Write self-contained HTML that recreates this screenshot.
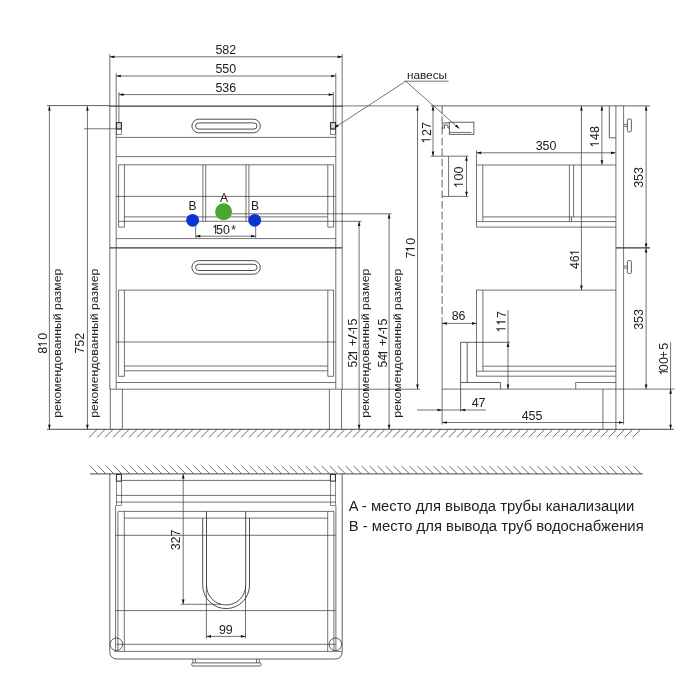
<!DOCTYPE html>
<html><head><meta charset="utf-8"><title>drawing</title>
<style>
html,body{margin:0;padding:0;background:#fff;}
svg{display:block;will-change:transform;font-family:"Liberation Sans",sans-serif;}
</style></head><body>
<svg width="700" height="700" viewBox="0 0 700 700">
<rect width="700" height="700" fill="#fff"/>
<line x1="109.8" y1="54" x2="109.8" y2="389.2" stroke="#3a3a3a" stroke-width="0.72" />
<line x1="342.2" y1="54" x2="342.2" y2="389.2" stroke="#3a3a3a" stroke-width="0.72" />
<line x1="110.3" y1="389.2" x2="110.3" y2="429.3" stroke="#3a3a3a" stroke-width="0.72" />
<line x1="341.5" y1="389.2" x2="341.5" y2="429.3" stroke="#3a3a3a" stroke-width="0.72" />
<line x1="116.2" y1="73" x2="116.2" y2="389" stroke="#3a3a3a" stroke-width="0.72" />
<line x1="335.8" y1="73" x2="335.8" y2="389" stroke="#3a3a3a" stroke-width="0.72" />
<line x1="118.9" y1="92" x2="118.9" y2="122.6" stroke="#3a3a3a" stroke-width="0.72" />
<line x1="333.3" y1="92" x2="333.3" y2="122.6" stroke="#3a3a3a" stroke-width="0.72" />
<line x1="109.8" y1="56.8" x2="342.2" y2="56.8" stroke="#3a3a3a" stroke-width="0.72" />
<polygon points="109.80,56.80 114.40,55.45 114.40,58.15" fill="#111"/>
<polygon points="342.20,56.80 337.60,55.45 337.60,58.15" fill="#111"/>
<text x="215.45" y="53.9" font-size="12" textLength="6.94" lengthAdjust="spacingAndGlyphs" fill="#222">5</text>
<text x="222.35" y="53.9" font-size="12" textLength="6.94" lengthAdjust="spacingAndGlyphs" fill="#222">8</text>
<text x="229.25" y="53.9" font-size="12" textLength="6.94" lengthAdjust="spacingAndGlyphs" fill="#222">2</text>
<line x1="116.2" y1="76" x2="335.8" y2="76" stroke="#3a3a3a" stroke-width="0.72" />
<polygon points="116.20,76.00 120.80,74.65 120.80,77.35" fill="#111"/>
<polygon points="335.80,76.00 331.20,74.65 331.20,77.35" fill="#111"/>
<text x="215.45" y="72.9" font-size="12" textLength="6.94" lengthAdjust="spacingAndGlyphs" fill="#222">5</text>
<text x="222.35" y="72.9" font-size="12" textLength="6.94" lengthAdjust="spacingAndGlyphs" fill="#222">5</text>
<text x="229.25" y="72.9" font-size="12" textLength="6.94" lengthAdjust="spacingAndGlyphs" fill="#222">0</text>
<line x1="118.9" y1="94.6" x2="333.3" y2="94.6" stroke="#3a3a3a" stroke-width="0.72" />
<polygon points="118.90,94.60 123.50,93.25 123.50,95.95" fill="#111"/>
<polygon points="333.30,94.60 328.70,93.25 328.70,95.95" fill="#111"/>
<text x="215.45" y="91.6" font-size="12" textLength="6.94" lengthAdjust="spacingAndGlyphs" fill="#222">5</text>
<text x="222.35" y="91.6" font-size="12" textLength="6.94" lengthAdjust="spacingAndGlyphs" fill="#222">3</text>
<text x="229.25" y="91.6" font-size="12" textLength="6.94" lengthAdjust="spacingAndGlyphs" fill="#222">6</text>
<line x1="47" y1="105.6" x2="110" y2="105.6" stroke="#3a3a3a" stroke-width="0.8" />
<line x1="109.8" y1="106.1" x2="342.2" y2="106.1" stroke="#3a3a3a" stroke-width="1.25" />
<rect x="116.4" y="122.6" width="5" height="6.4" fill="#d4d4d4"/>
<rect x="116.4" y="122.6" width="5.0" height="6.400000000000006" rx="0" fill="none" stroke="#222" stroke-width="1.0"/>
<rect x="116.4" y="129" width="5.0" height="5.300000000000011" rx="0" fill="none" stroke="#3a3a3a" stroke-width="0.6"/>
<rect x="330.6" y="122.6" width="5" height="6.4" fill="#d4d4d4"/>
<rect x="330.6" y="122.6" width="5.0" height="6.400000000000006" rx="0" fill="none" stroke="#222" stroke-width="1.0"/>
<rect x="330.6" y="129" width="5.0" height="5.300000000000011" rx="0" fill="none" stroke="#3a3a3a" stroke-width="0.6"/>
<line x1="84" y1="128.8" x2="116.4" y2="128.8" stroke="#3a3a3a" stroke-width="0.7" />
<line x1="116.2" y1="137.4" x2="335.8" y2="137.4" stroke="#3a3a3a" stroke-width="0.72" />
<line x1="116.2" y1="156.6" x2="335.8" y2="156.6" stroke="#3a3a3a" stroke-width="0.72" />
<line x1="118.6" y1="164.8" x2="333.6" y2="164.8" stroke="#3a3a3a" stroke-width="0.72" />
<line x1="116.2" y1="196.4" x2="335.8" y2="196.4" stroke="#3a3a3a" stroke-width="0.72" />
<line x1="124.4" y1="216.9" x2="327.8" y2="216.9" stroke="#3a3a3a" stroke-width="0.72" />
<line x1="118.6" y1="221.3" x2="361.5" y2="221.3" stroke="#3a3a3a" stroke-width="0.72" />
<line x1="225" y1="213.8" x2="391.5" y2="213.8" stroke="#3a3a3a" stroke-width="0.72" />
<line x1="118.6" y1="227.1" x2="124.4" y2="227.1" stroke="#3a3a3a" stroke-width="0.72" />
<line x1="327.8" y1="227.1" x2="333.6" y2="227.1" stroke="#3a3a3a" stroke-width="0.72" />
<line x1="116.2" y1="238.6" x2="335.8" y2="238.6" stroke="#3a3a3a" stroke-width="0.72" />
<line x1="109.8" y1="247.9" x2="342.2" y2="247.9" stroke="#3a3a3a" stroke-width="1.25" />
<line x1="118.6" y1="164.8" x2="118.6" y2="227.1" stroke="#3a3a3a" stroke-width="0.72" />
<line x1="124.4" y1="164.8" x2="124.4" y2="227.1" stroke="#3a3a3a" stroke-width="0.72" />
<line x1="327.8" y1="164.8" x2="327.8" y2="227.1" stroke="#3a3a3a" stroke-width="0.72" />
<line x1="333.6" y1="164.8" x2="333.6" y2="227.1" stroke="#3a3a3a" stroke-width="0.72" />
<line x1="202.9" y1="164.8" x2="202.9" y2="221.3" stroke="#3a3a3a" stroke-width="0.72" />
<line x1="205.7" y1="164.8" x2="205.7" y2="221.3" stroke="#3a3a3a" stroke-width="0.72" />
<line x1="246.0" y1="164.8" x2="246.0" y2="221.3" stroke="#3a3a3a" stroke-width="0.72" />
<line x1="248.9" y1="164.8" x2="248.9" y2="221.3" stroke="#3a3a3a" stroke-width="0.72" />
<rect x="191.9" y="119.2" width="68.4" height="13.600000000000009" rx="6.8" fill="none" stroke="#3a3a3a" stroke-width="0.9"/>
<rect x="195.6" y="122.9" width="61.400000000000006" height="6.199999999999989" rx="3.1" fill="none" stroke="#3a3a3a" stroke-width="0.9"/>
<rect x="191.9" y="260.59999999999997" width="68.4" height="13.600000000000023" rx="6.8" fill="none" stroke="#3a3a3a" stroke-width="0.9"/>
<rect x="195.6" y="264.29999999999995" width="61.400000000000006" height="6.2000000000000455" rx="3.1" fill="none" stroke="#3a3a3a" stroke-width="0.9"/>
<line x1="118.6" y1="290.1" x2="333.6" y2="290.1" stroke="#3a3a3a" stroke-width="0.72" />
<line x1="118.6" y1="290" x2="118.6" y2="376.3" stroke="#3a3a3a" stroke-width="0.72" />
<line x1="124.4" y1="290" x2="124.4" y2="376.3" stroke="#3a3a3a" stroke-width="0.72" />
<line x1="327.8" y1="290" x2="327.8" y2="376.3" stroke="#3a3a3a" stroke-width="0.72" />
<line x1="333.6" y1="290" x2="333.6" y2="376.3" stroke="#3a3a3a" stroke-width="0.72" />
<line x1="118.6" y1="376.3" x2="124.4" y2="376.3" stroke="#3a3a3a" stroke-width="0.72" />
<line x1="327.8" y1="376.3" x2="333.6" y2="376.3" stroke="#3a3a3a" stroke-width="0.72" />
<line x1="116.2" y1="342" x2="335.8" y2="342" stroke="#3a3a3a" stroke-width="0.72" />
<line x1="124.4" y1="366.0" x2="327.8" y2="366.0" stroke="#3a3a3a" stroke-width="0.72" />
<line x1="124.4" y1="370.8" x2="327.8" y2="370.8" stroke="#3a3a3a" stroke-width="0.72" />
<line x1="116.2" y1="382.5" x2="335.8" y2="382.5" stroke="#3a3a3a" stroke-width="0.72" />
<line x1="109.8" y1="389.2" x2="420" y2="389.2" stroke="#3a3a3a" stroke-width="0.72" />
<line x1="122.4" y1="389.2" x2="122.4" y2="429.3" stroke="#3a3a3a" stroke-width="0.72" />
<line x1="329.4" y1="389.2" x2="329.4" y2="429.3" stroke="#3a3a3a" stroke-width="0.72" />
<line x1="47" y1="429.3" x2="673.6" y2="429.3" stroke="#333" stroke-width="0.9" />
<line x1="97.2" y1="429.3" x2="89.2" y2="437.40000000000003" stroke="#3a3a3a" stroke-width="0.75" />
<line x1="105.193" y1="429.3" x2="97.193" y2="437.40000000000003" stroke="#3a3a3a" stroke-width="0.75" />
<line x1="113.186" y1="429.3" x2="105.186" y2="437.40000000000003" stroke="#3a3a3a" stroke-width="0.75" />
<line x1="121.179" y1="429.3" x2="113.179" y2="437.40000000000003" stroke="#3a3a3a" stroke-width="0.75" />
<line x1="129.172" y1="429.3" x2="121.172" y2="437.40000000000003" stroke="#3a3a3a" stroke-width="0.75" />
<line x1="137.16500000000002" y1="429.3" x2="129.16500000000002" y2="437.40000000000003" stroke="#3a3a3a" stroke-width="0.75" />
<line x1="145.15800000000002" y1="429.3" x2="137.15800000000002" y2="437.40000000000003" stroke="#3a3a3a" stroke-width="0.75" />
<line x1="153.151" y1="429.3" x2="145.151" y2="437.40000000000003" stroke="#3a3a3a" stroke-width="0.75" />
<line x1="161.144" y1="429.3" x2="153.144" y2="437.40000000000003" stroke="#3a3a3a" stroke-width="0.75" />
<line x1="169.137" y1="429.3" x2="161.137" y2="437.40000000000003" stroke="#3a3a3a" stroke-width="0.75" />
<line x1="177.13" y1="429.3" x2="169.13" y2="437.40000000000003" stroke="#3a3a3a" stroke-width="0.75" />
<line x1="185.123" y1="429.3" x2="177.123" y2="437.40000000000003" stroke="#3a3a3a" stroke-width="0.75" />
<line x1="193.11599999999999" y1="429.3" x2="185.11599999999999" y2="437.40000000000003" stroke="#3a3a3a" stroke-width="0.75" />
<line x1="201.109" y1="429.3" x2="193.109" y2="437.40000000000003" stroke="#3a3a3a" stroke-width="0.75" />
<line x1="209.102" y1="429.3" x2="201.102" y2="437.40000000000003" stroke="#3a3a3a" stroke-width="0.75" />
<line x1="217.09500000000003" y1="429.3" x2="209.09500000000003" y2="437.40000000000003" stroke="#3a3a3a" stroke-width="0.75" />
<line x1="225.08800000000002" y1="429.3" x2="217.08800000000002" y2="437.40000000000003" stroke="#3a3a3a" stroke-width="0.75" />
<line x1="233.08100000000002" y1="429.3" x2="225.08100000000002" y2="437.40000000000003" stroke="#3a3a3a" stroke-width="0.75" />
<line x1="241.074" y1="429.3" x2="233.074" y2="437.40000000000003" stroke="#3a3a3a" stroke-width="0.75" />
<line x1="249.067" y1="429.3" x2="241.067" y2="437.40000000000003" stroke="#3a3a3a" stroke-width="0.75" />
<line x1="257.06" y1="429.3" x2="249.06" y2="437.40000000000003" stroke="#3a3a3a" stroke-width="0.75" />
<line x1="265.053" y1="429.3" x2="257.053" y2="437.40000000000003" stroke="#3a3a3a" stroke-width="0.75" />
<line x1="273.046" y1="429.3" x2="265.046" y2="437.40000000000003" stroke="#3a3a3a" stroke-width="0.75" />
<line x1="281.039" y1="429.3" x2="273.039" y2="437.40000000000003" stroke="#3a3a3a" stroke-width="0.75" />
<line x1="289.032" y1="429.3" x2="281.032" y2="437.40000000000003" stroke="#3a3a3a" stroke-width="0.75" />
<line x1="297.02500000000003" y1="429.3" x2="289.02500000000003" y2="437.40000000000003" stroke="#3a3a3a" stroke-width="0.75" />
<line x1="305.01800000000003" y1="429.3" x2="297.01800000000003" y2="437.40000000000003" stroke="#3a3a3a" stroke-width="0.75" />
<line x1="313.011" y1="429.3" x2="305.011" y2="437.40000000000003" stroke="#3a3a3a" stroke-width="0.75" />
<line x1="321.004" y1="429.3" x2="313.004" y2="437.40000000000003" stroke="#3a3a3a" stroke-width="0.75" />
<line x1="328.997" y1="429.3" x2="320.997" y2="437.40000000000003" stroke="#3a3a3a" stroke-width="0.75" />
<line x1="336.99" y1="429.3" x2="328.99" y2="437.40000000000003" stroke="#3a3a3a" stroke-width="0.75" />
<line x1="344.983" y1="429.3" x2="336.983" y2="437.40000000000003" stroke="#3a3a3a" stroke-width="0.75" />
<line x1="352.976" y1="429.3" x2="344.976" y2="437.40000000000003" stroke="#3a3a3a" stroke-width="0.75" />
<line x1="360.969" y1="429.3" x2="352.969" y2="437.40000000000003" stroke="#3a3a3a" stroke-width="0.75" />
<line x1="368.962" y1="429.3" x2="360.962" y2="437.40000000000003" stroke="#3a3a3a" stroke-width="0.75" />
<line x1="376.955" y1="429.3" x2="368.955" y2="437.40000000000003" stroke="#3a3a3a" stroke-width="0.75" />
<line x1="384.948" y1="429.3" x2="376.948" y2="437.40000000000003" stroke="#3a3a3a" stroke-width="0.75" />
<line x1="392.941" y1="429.3" x2="384.941" y2="437.40000000000003" stroke="#3a3a3a" stroke-width="0.75" />
<line x1="400.934" y1="429.3" x2="392.934" y2="437.40000000000003" stroke="#3a3a3a" stroke-width="0.75" />
<line x1="408.927" y1="429.3" x2="400.927" y2="437.40000000000003" stroke="#3a3a3a" stroke-width="0.75" />
<line x1="416.92" y1="429.3" x2="408.92" y2="437.40000000000003" stroke="#3a3a3a" stroke-width="0.75" />
<line x1="424.913" y1="429.3" x2="416.913" y2="437.40000000000003" stroke="#3a3a3a" stroke-width="0.75" />
<line x1="432.906" y1="429.3" x2="424.906" y2="437.40000000000003" stroke="#3a3a3a" stroke-width="0.75" />
<line x1="440.899" y1="429.3" x2="432.899" y2="437.40000000000003" stroke="#3a3a3a" stroke-width="0.75" />
<line x1="448.892" y1="429.3" x2="440.892" y2="437.40000000000003" stroke="#3a3a3a" stroke-width="0.75" />
<line x1="456.885" y1="429.3" x2="448.885" y2="437.40000000000003" stroke="#3a3a3a" stroke-width="0.75" />
<line x1="464.878" y1="429.3" x2="456.878" y2="437.40000000000003" stroke="#3a3a3a" stroke-width="0.75" />
<line x1="472.871" y1="429.3" x2="464.871" y2="437.40000000000003" stroke="#3a3a3a" stroke-width="0.75" />
<line x1="480.864" y1="429.3" x2="472.864" y2="437.40000000000003" stroke="#3a3a3a" stroke-width="0.75" />
<line x1="488.857" y1="429.3" x2="480.857" y2="437.40000000000003" stroke="#3a3a3a" stroke-width="0.75" />
<line x1="496.85" y1="429.3" x2="488.85" y2="437.40000000000003" stroke="#3a3a3a" stroke-width="0.75" />
<line x1="504.843" y1="429.3" x2="496.843" y2="437.40000000000003" stroke="#3a3a3a" stroke-width="0.75" />
<line x1="512.836" y1="429.3" x2="504.836" y2="437.40000000000003" stroke="#3a3a3a" stroke-width="0.75" />
<line x1="520.8290000000001" y1="429.3" x2="512.8290000000001" y2="437.40000000000003" stroke="#3a3a3a" stroke-width="0.75" />
<line x1="528.822" y1="429.3" x2="520.822" y2="437.40000000000003" stroke="#3a3a3a" stroke-width="0.75" />
<line x1="536.815" y1="429.3" x2="528.815" y2="437.40000000000003" stroke="#3a3a3a" stroke-width="0.75" />
<line x1="544.808" y1="429.3" x2="536.808" y2="437.40000000000003" stroke="#3a3a3a" stroke-width="0.75" />
<line x1="552.801" y1="429.3" x2="544.801" y2="437.40000000000003" stroke="#3a3a3a" stroke-width="0.75" />
<line x1="560.794" y1="429.3" x2="552.794" y2="437.40000000000003" stroke="#3a3a3a" stroke-width="0.75" />
<line x1="568.787" y1="429.3" x2="560.787" y2="437.40000000000003" stroke="#3a3a3a" stroke-width="0.75" />
<line x1="576.7800000000001" y1="429.3" x2="568.7800000000001" y2="437.40000000000003" stroke="#3a3a3a" stroke-width="0.75" />
<line x1="584.773" y1="429.3" x2="576.773" y2="437.40000000000003" stroke="#3a3a3a" stroke-width="0.75" />
<line x1="592.7660000000001" y1="429.3" x2="584.7660000000001" y2="437.40000000000003" stroke="#3a3a3a" stroke-width="0.75" />
<line x1="600.759" y1="429.3" x2="592.759" y2="437.40000000000003" stroke="#3a3a3a" stroke-width="0.75" />
<line x1="608.7520000000001" y1="429.3" x2="600.7520000000001" y2="437.40000000000003" stroke="#3a3a3a" stroke-width="0.75" />
<line x1="616.7450000000001" y1="429.3" x2="608.7450000000001" y2="437.40000000000003" stroke="#3a3a3a" stroke-width="0.75" />
<line x1="624.738" y1="429.3" x2="616.738" y2="437.40000000000003" stroke="#3a3a3a" stroke-width="0.75" />
<line x1="632.7310000000001" y1="429.3" x2="624.7310000000001" y2="437.40000000000003" stroke="#3a3a3a" stroke-width="0.75" />
<line x1="640.724" y1="429.3" x2="632.724" y2="437.40000000000003" stroke="#3a3a3a" stroke-width="0.75" />
<line x1="49.4" y1="105.9" x2="49.4" y2="429.3" stroke="#3a3a3a" stroke-width="0.72" />
<polygon points="49.40,105.90 48.05,110.50 50.75,110.50" fill="#111"/>
<polygon points="49.40,429.30 48.05,424.70 50.75,424.70" fill="#111"/>
<line x1="87.4" y1="105.9" x2="87.4" y2="429.3" stroke="#3a3a3a" stroke-width="0.72" />
<polygon points="87.40,105.90 86.05,110.50 88.75,110.50" fill="#111"/>
<polygon points="87.40,429.30 86.05,424.70 88.75,424.70" fill="#111"/>
<text transform="translate(47,353.65) rotate(-90)" font-size="12" textLength="6.94" lengthAdjust="spacingAndGlyphs" fill="#222">8</text>
<path transform="translate(47,346.45) rotate(-90)" d="M0.5,-6.4 L2.75,-8.35 L2.75,0" stroke="#222" stroke-width="1.05" fill="none"/>
<text transform="translate(47,339.85) rotate(-90)" font-size="12" textLength="6.94" lengthAdjust="spacingAndGlyphs" fill="#222">0</text>
<text transform="translate(84.4,353.65) rotate(-90)" font-size="12" textLength="6.94" lengthAdjust="spacingAndGlyphs" fill="#222">7</text>
<text transform="translate(84.4,346.75) rotate(-90)" font-size="12" textLength="6.94" lengthAdjust="spacingAndGlyphs" fill="#222">5</text>
<text transform="translate(84.4,339.85) rotate(-90)" font-size="12" textLength="6.94" lengthAdjust="spacingAndGlyphs" fill="#222">2</text>
<text transform="translate(61.4,343.2) rotate(-90)" font-size="11.6" text-anchor="middle" textLength="149" lengthAdjust="spacingAndGlyphs" fill="#222">рекомендованный размер</text>
<text transform="translate(98.4,343.2) rotate(-90)" font-size="11.6" text-anchor="middle" textLength="149" lengthAdjust="spacingAndGlyphs" fill="#222">рекомендованный размер</text>
<line x1="359.1" y1="221.3" x2="359.1" y2="429.3" stroke="#3a3a3a" stroke-width="0.72" />
<polygon points="359.10,221.30 357.75,225.90 360.45,225.90" fill="#111"/>
<polygon points="359.10,429.30 357.75,424.70 360.45,424.70" fill="#111"/>
<line x1="389.1" y1="213.8" x2="389.1" y2="429.3" stroke="#3a3a3a" stroke-width="0.72" />
<polygon points="389.10,213.80 387.75,218.40 390.45,218.40" fill="#111"/>
<polygon points="389.10,429.30 387.75,424.70 390.45,424.70" fill="#111"/>
<text transform="translate(357.3,367.5) rotate(-90)" font-size="12" textLength="13.4" lengthAdjust="spacingAndGlyphs" fill="#222">52</text>
<path transform="translate(357.3,355.4) rotate(-90)" d="M0.5,-6.4 L2.75,-8.35 L2.75,0" stroke="#222" stroke-width="1.05" fill="none"/>
<text transform="translate(357.3,346.1) rotate(-90)" font-size="12" fill="#222">+</text>
<text transform="translate(357.3,339.3) rotate(-90)" font-size="12" textLength="5.0" lengthAdjust="spacingAndGlyphs" fill="#222">/</text>
<text transform="translate(357.3,334.3) rotate(-90)" font-size="12" fill="#222">-</text>
<path transform="translate(357.3,331.2) rotate(-90)" d="M0.5,-6.4 L2.75,-8.35 L2.75,0" stroke="#222" stroke-width="1.05" fill="none"/>
<text transform="translate(357.3,325.4) rotate(-90)" font-size="12" textLength="6.94" lengthAdjust="spacingAndGlyphs" fill="#222">5</text>
<text transform="translate(387.4,367.5) rotate(-90)" font-size="12" textLength="13.4" lengthAdjust="spacingAndGlyphs" fill="#222">54</text>
<path transform="translate(387.4,355.4) rotate(-90)" d="M0.5,-6.4 L2.75,-8.35 L2.75,0" stroke="#222" stroke-width="1.05" fill="none"/>
<text transform="translate(387.4,346.1) rotate(-90)" font-size="12" fill="#222">+</text>
<text transform="translate(387.4,339.3) rotate(-90)" font-size="12" textLength="5.0" lengthAdjust="spacingAndGlyphs" fill="#222">/</text>
<text transform="translate(387.4,334.3) rotate(-90)" font-size="12" fill="#222">-</text>
<path transform="translate(387.4,331.2) rotate(-90)" d="M0.5,-6.4 L2.75,-8.35 L2.75,0" stroke="#222" stroke-width="1.05" fill="none"/>
<text transform="translate(387.4,325.4) rotate(-90)" font-size="12" textLength="6.94" lengthAdjust="spacingAndGlyphs" fill="#222">5</text>
<text transform="translate(368.6,343.2) rotate(-90)" font-size="11.6" text-anchor="middle" textLength="149" lengthAdjust="spacingAndGlyphs" fill="#222">рекомендованный размер</text>
<text transform="translate(400.8,343.2) rotate(-90)" font-size="11.6" text-anchor="middle" textLength="149" lengthAdjust="spacingAndGlyphs" fill="#222">рекомендованный размер</text>
<line x1="195.7" y1="222" x2="195.7" y2="237.9" stroke="#3a3a3a" stroke-width="0.72" />
<line x1="255.7" y1="222" x2="255.7" y2="237.9" stroke="#3a3a3a" stroke-width="0.72" />
<line x1="195.7" y1="236.2" x2="255.7" y2="236.2" stroke="#3a3a3a" stroke-width="0.72" />
<polygon points="195.70,236.20 200.30,234.85 200.30,237.55" fill="#111"/>
<polygon points="255.70,236.20 251.10,234.85 251.10,237.55" fill="#111"/>
<path transform="translate(212.9,233.8)" d="M0.5,-6.4 L2.75,-8.35 L2.75,0" stroke="#222" stroke-width="1.05" fill="none"/>
<text x="215.9" y="233.8" font-size="12" textLength="6.94" lengthAdjust="spacingAndGlyphs" fill="#222">5</text>
<text x="223.1" y="233.8" font-size="12" textLength="6.94" lengthAdjust="spacingAndGlyphs" fill="#222">0</text>
<text x="231.2" y="233.8" font-size="12" fill="#222">*</text>
<circle cx="223.6" cy="211.8" r="8.5" fill="#4aa832"/>
<circle cx="192.6" cy="220.3" r="6.4" fill="#0a35d2"/>
<circle cx="254.7" cy="220.3" r="6.4" fill="#0a35d2"/>
<text x="224" y="201.9" font-size="12" text-anchor="middle" fill="#222">A</text>
<text x="192.4" y="210.4" font-size="12" text-anchor="middle" fill="#222">B</text>
<text x="255.1" y="210.4" font-size="12" text-anchor="middle" fill="#222">B</text>
<text x="427" y="78.7" font-size="11.6" text-anchor="middle" textLength="40.2" lengthAdjust="spacingAndGlyphs" fill="#222">навесы</text>
<line x1="404.5" y1="81.2" x2="448.5" y2="81.2" stroke="#3a3a3a" stroke-width="0.7" />
<line x1="405.7" y1="81.2" x2="335.4" y2="127.2" stroke="#3a3a3a" stroke-width="0.7" />
<line x1="405.7" y1="81.2" x2="459.3" y2="128.6" stroke="#3a3a3a" stroke-width="0.7" />
<polygon points="334.20,128.00 337.31,124.35 338.79,126.61" fill="#111"/>
<polygon points="459.30,128.60 454.96,126.56 456.75,124.54" fill="#111"/>
<line x1="342.2" y1="105.9" x2="419.3" y2="105.9" stroke="#3a3a3a" stroke-width="0.7" />
<line x1="430.7" y1="105.9" x2="650" y2="105.9" stroke="#3a3a3a" stroke-width="0.8" />
<line x1="417.5" y1="105.9" x2="417.5" y2="389.1" stroke="#3a3a3a" stroke-width="0.72" />
<polygon points="417.50,105.90 416.15,110.50 418.85,110.50" fill="#111"/>
<polygon points="417.50,389.10 416.15,384.50 418.85,384.50" fill="#111"/>
<text transform="translate(414.6,258.55) rotate(-90)" font-size="12" textLength="6.94" lengthAdjust="spacingAndGlyphs" fill="#222">7</text>
<path transform="translate(414.6,251.35) rotate(-90)" d="M0.5,-6.4 L2.75,-8.35 L2.75,0" stroke="#222" stroke-width="1.05" fill="none"/>
<text transform="translate(414.6,244.75) rotate(-90)" font-size="12" textLength="6.94" lengthAdjust="spacingAndGlyphs" fill="#222">0</text>
<line x1="433" y1="105.9" x2="433" y2="156.2" stroke="#3a3a3a" stroke-width="0.72" />
<polygon points="433.00,105.90 431.65,110.50 434.35,110.50" fill="#111"/>
<polygon points="433.00,156.20 431.65,151.60 434.35,151.60" fill="#111"/>
<path transform="translate(430.5,142.55) rotate(-90)" d="M0.5,-6.4 L2.75,-8.35 L2.75,0" stroke="#222" stroke-width="1.05" fill="none"/>
<text transform="translate(430.5,135.95) rotate(-90)" font-size="12" textLength="6.94" lengthAdjust="spacingAndGlyphs" fill="#222">2</text>
<text transform="translate(430.5,129.05) rotate(-90)" font-size="12" textLength="6.94" lengthAdjust="spacingAndGlyphs" fill="#222">7</text>
<line x1="430.7" y1="156.2" x2="468.4" y2="156.2" stroke="#3a3a3a" stroke-width="0.72" />
<line x1="442.1" y1="105.9" x2="442.1" y2="317" stroke="#3a3a3a" stroke-width="0.8" stroke-dasharray="7.7 2.87"/>
<line x1="442.1" y1="317" x2="442.1" y2="424.5" stroke="#3a3a3a" stroke-width="0.72" />
<line x1="448.6" y1="156.2" x2="448.6" y2="196.4" stroke="#3a3a3a" stroke-width="0.72" />
<line x1="442.1" y1="196.4" x2="468.4" y2="196.4" stroke="#3a3a3a" stroke-width="0.72" />
<line x1="466.5" y1="156.2" x2="466.5" y2="196.4" stroke="#3a3a3a" stroke-width="0.72" />
<polygon points="466.50,156.20 465.15,160.80 467.85,160.80" fill="#111"/>
<polygon points="466.50,196.40 465.15,191.80 467.85,191.80" fill="#111"/>
<path transform="translate(463,187.05) rotate(-90)" d="M0.5,-6.4 L2.75,-8.35 L2.75,0" stroke="#222" stroke-width="1.05" fill="none"/>
<text transform="translate(463,180.45) rotate(-90)" font-size="12" textLength="6.94" lengthAdjust="spacingAndGlyphs" fill="#222">0</text>
<text transform="translate(463,173.55) rotate(-90)" font-size="12" textLength="6.94" lengthAdjust="spacingAndGlyphs" fill="#222">0</text>
<rect x="449.3" y="122.2" width="24.599999999999966" height="12.100000000000009" rx="0" fill="none" stroke="#3a3a3a" stroke-width="0.8"/>
<line x1="449.3" y1="132.4" x2="471.5" y2="132.4" stroke="#3a3a3a" stroke-width="0.7" />
<path d="M442.7,129.2 L442.7,124.8 Q442.7,122.8 444.7,122.8 L449.3,122.8 M444.4,128.8 L444.4,125 L447.1,125 Q447.9,125 447.9,125.8 L447.9,127.9 L449.3,127.9" fill="none" stroke="#3a3a3a" stroke-width="0.85"/>
<line x1="476.5" y1="150.5" x2="476.5" y2="227.1" stroke="#3a3a3a" stroke-width="0.72" />
<line x1="482.8" y1="164.8" x2="482.8" y2="221.4" stroke="#3a3a3a" stroke-width="0.72" />
<line x1="476.6" y1="152.8" x2="615.6" y2="152.8" stroke="#3a3a3a" stroke-width="0.72" />
<polygon points="476.60,152.80 481.20,151.45 481.20,154.15" fill="#111"/>
<polygon points="615.60,152.80 611.00,151.45 611.00,154.15" fill="#111"/>
<text x="535.65" y="150.4" font-size="12" textLength="6.94" lengthAdjust="spacingAndGlyphs" fill="#222">3</text>
<text x="542.55" y="150.4" font-size="12" textLength="6.94" lengthAdjust="spacingAndGlyphs" fill="#222">5</text>
<text x="549.45" y="150.4" font-size="12" textLength="6.94" lengthAdjust="spacingAndGlyphs" fill="#222">0</text>
<line x1="476.6" y1="165" x2="615.9" y2="165" stroke="#3a3a3a" stroke-width="0.72" />
<line x1="482.9" y1="216.9" x2="615.9" y2="216.9" stroke="#3a3a3a" stroke-width="0.72" />
<line x1="476.6" y1="221.6" x2="615.9" y2="221.6" stroke="#3a3a3a" stroke-width="0.72" />
<line x1="476.6" y1="227.1" x2="615.9" y2="227.1" stroke="#3a3a3a" stroke-width="0.72" />
<line x1="569.4" y1="165" x2="569.4" y2="221.6" stroke="#3a3a3a" stroke-width="0.72" />
<line x1="573.6" y1="165" x2="573.6" y2="217" stroke="#3a3a3a" stroke-width="0.72" />
<line x1="571.5" y1="217" x2="571.5" y2="221.6" stroke="#3a3a3a" stroke-width="0.72" />
<line x1="615.9" y1="105.9" x2="615.9" y2="429.3" stroke="#3a3a3a" stroke-width="0.72" />
<line x1="623.6" y1="105.9" x2="623.6" y2="424.5" stroke="#3a3a3a" stroke-width="0.72" />
<path d="M609.3,105.9 L609.3,137.8 L615.9,137.8" fill="none" stroke="#3a3a3a" stroke-width="0.8"/>
<line x1="615.9" y1="247.9" x2="650" y2="247.9" stroke="#3a3a3a" stroke-width="1.25" />
<line x1="623.6" y1="124.4" x2="627.4" y2="124.4" stroke="#3a3a3a" stroke-width="0.7" />
<line x1="623.6" y1="126.4" x2="627.4" y2="126.4" stroke="#3a3a3a" stroke-width="0.7" />
<rect x="627.4" y="119.0" width="4.0" height="12.800000000000011" rx="1" fill="none" stroke="#3a3a3a" stroke-width="0.8"/>
<line x1="623.6" y1="266" x2="627.4" y2="266" stroke="#3a3a3a" stroke-width="0.7" />
<line x1="623.6" y1="268" x2="627.4" y2="268" stroke="#3a3a3a" stroke-width="0.7" />
<rect x="627.4" y="260.6" width="4.0" height="12.799999999999955" rx="1" fill="none" stroke="#3a3a3a" stroke-width="0.8"/>
<line x1="646.1" y1="105.9" x2="646.1" y2="248" stroke="#3a3a3a" stroke-width="0.72" />
<polygon points="646.10,105.90 644.75,110.50 647.45,110.50" fill="#111"/>
<polygon points="646.10,248.00 644.75,243.40 647.45,243.40" fill="#111"/>
<text transform="translate(642.9,187.85) rotate(-90)" font-size="12" textLength="6.94" lengthAdjust="spacingAndGlyphs" fill="#222">3</text>
<text transform="translate(642.9,180.95) rotate(-90)" font-size="12" textLength="6.94" lengthAdjust="spacingAndGlyphs" fill="#222">5</text>
<text transform="translate(642.9,174.05) rotate(-90)" font-size="12" textLength="6.94" lengthAdjust="spacingAndGlyphs" fill="#222">3</text>
<line x1="646.1" y1="248" x2="646.1" y2="389.1" stroke="#3a3a3a" stroke-width="0.72" />
<polygon points="646.10,248.00 644.75,252.60 647.45,252.60" fill="#111"/>
<polygon points="646.10,389.10 644.75,384.50 647.45,384.50" fill="#111"/>
<text transform="translate(642.9,329.85) rotate(-90)" font-size="12" textLength="6.94" lengthAdjust="spacingAndGlyphs" fill="#222">3</text>
<text transform="translate(642.9,322.95) rotate(-90)" font-size="12" textLength="6.94" lengthAdjust="spacingAndGlyphs" fill="#222">5</text>
<text transform="translate(642.9,316.05) rotate(-90)" font-size="12" textLength="6.94" lengthAdjust="spacingAndGlyphs" fill="#222">3</text>
<line x1="601.9" y1="105.9" x2="601.9" y2="164.8" stroke="#3a3a3a" stroke-width="0.72" />
<polygon points="601.90,105.90 600.55,110.50 603.25,110.50" fill="#111"/>
<polygon points="601.90,164.80 600.55,160.20 603.25,160.20" fill="#111"/>
<path transform="translate(599,146.55) rotate(-90)" d="M0.5,-6.4 L2.75,-8.35 L2.75,0" stroke="#222" stroke-width="1.05" fill="none"/>
<text transform="translate(599,139.95) rotate(-90)" font-size="12" textLength="6.94" lengthAdjust="spacingAndGlyphs" fill="#222">4</text>
<text transform="translate(599,133.05) rotate(-90)" font-size="12" textLength="6.94" lengthAdjust="spacingAndGlyphs" fill="#222">8</text>
<line x1="581.4" y1="105.9" x2="581.4" y2="290" stroke="#3a3a3a" stroke-width="0.72" />
<polygon points="581.40,105.90 580.05,110.50 582.75,110.50" fill="#111"/>
<polygon points="581.40,290.00 580.05,285.40 582.75,285.40" fill="#111"/>
<text transform="translate(579,269.05) rotate(-90)" font-size="12" textLength="6.94" lengthAdjust="spacingAndGlyphs" fill="#222">4</text>
<text transform="translate(579,262.15) rotate(-90)" font-size="12" textLength="6.94" lengthAdjust="spacingAndGlyphs" fill="#222">6</text>
<path transform="translate(579,254.95) rotate(-90)" d="M0.5,-6.4 L2.75,-8.35 L2.75,0" stroke="#222" stroke-width="1.05" fill="none"/>
<line x1="476.6" y1="290.1" x2="615.9" y2="290.1" stroke="#3a3a3a" stroke-width="0.72" />
<line x1="476.5" y1="290.1" x2="476.5" y2="376.2" stroke="#3a3a3a" stroke-width="0.72" />
<line x1="482.9" y1="290.1" x2="482.9" y2="371.2" stroke="#3a3a3a" stroke-width="0.72" />
<line x1="482.9" y1="366.2" x2="615.9" y2="366.2" stroke="#3a3a3a" stroke-width="0.72" />
<line x1="476.6" y1="371.2" x2="615.9" y2="371.2" stroke="#3a3a3a" stroke-width="0.72" />
<line x1="476.6" y1="376.2" x2="615.9" y2="376.2" stroke="#3a3a3a" stroke-width="0.72" />
<path d="M460.6,411.4 L460.6,342.3 L510,342.3 M467.2,342.3 L467.2,382.5 M460.6,382.5 L500.6,382.5 L500.6,389.1" fill="none" stroke="#3a3a3a" stroke-width="0.8"/>
<path d="M575.7,389.1 L575.7,382.5 L615.9,382.5" fill="none" stroke="#3a3a3a" stroke-width="0.72"/>
<line x1="442.1" y1="389.1" x2="674.5" y2="389.1" stroke="#3a3a3a" stroke-width="0.72" />
<line x1="602.9" y1="389.1" x2="602.9" y2="429.3" stroke="#3a3a3a" stroke-width="0.72" />
<line x1="508" y1="310" x2="508" y2="389.1" stroke="#3a3a3a" stroke-width="0.72" />
<polygon points="508.00,342.30 506.65,346.90 509.35,346.90" fill="#111"/>
<polygon points="508.00,389.10 506.65,384.50 509.35,384.50" fill="#111"/>
<path transform="translate(505.5,331.55) rotate(-90)" d="M0.5,-6.4 L2.75,-8.35 L2.75,0" stroke="#222" stroke-width="1.05" fill="none"/>
<path transform="translate(505.5,324.65) rotate(-90)" d="M0.5,-6.4 L2.75,-8.35 L2.75,0" stroke="#222" stroke-width="1.05" fill="none"/>
<text transform="translate(505.5,318.05) rotate(-90)" font-size="12" textLength="6.94" lengthAdjust="spacingAndGlyphs" fill="#222">7</text>
<line x1="442.1" y1="323.4" x2="476.6" y2="323.4" stroke="#3a3a3a" stroke-width="0.72" />
<polygon points="442.10,323.40 446.70,322.05 446.70,324.75" fill="#111"/>
<polygon points="476.60,323.40 472.00,322.05 472.00,324.75" fill="#111"/>
<text x="451.70" y="320.1" font-size="12" textLength="6.94" lengthAdjust="spacingAndGlyphs" fill="#222">8</text>
<text x="458.60" y="320.1" font-size="12" textLength="6.94" lengthAdjust="spacingAndGlyphs" fill="#222">6</text>
<line x1="417" y1="410" x2="485.8" y2="410" stroke="#3a3a3a" stroke-width="0.72" />
<polygon points="442.10,410.00 437.50,408.65 437.50,411.35" fill="#111"/>
<polygon points="460.60,410.00 465.20,408.65 465.20,411.35" fill="#111"/>
<text x="471.70" y="406.9" font-size="12" textLength="6.94" lengthAdjust="spacingAndGlyphs" fill="#222">4</text>
<text x="478.60" y="406.9" font-size="12" textLength="6.94" lengthAdjust="spacingAndGlyphs" fill="#222">7</text>
<line x1="442.1" y1="422.5" x2="623.6" y2="422.5" stroke="#3a3a3a" stroke-width="0.72" />
<polygon points="442.10,422.50 446.70,421.15 446.70,423.85" fill="#111"/>
<polygon points="623.60,422.50 619.00,421.15 619.00,423.85" fill="#111"/>
<text x="521.65" y="419.6" font-size="12" textLength="6.94" lengthAdjust="spacingAndGlyphs" fill="#222">4</text>
<text x="528.55" y="419.6" font-size="12" textLength="6.94" lengthAdjust="spacingAndGlyphs" fill="#222">5</text>
<text x="535.45" y="419.6" font-size="12" textLength="6.94" lengthAdjust="spacingAndGlyphs" fill="#222">5</text>
<line x1="670.6" y1="342.3" x2="670.6" y2="429.3" stroke="#3a3a3a" stroke-width="0.72" />
<polygon points="670.60,389.10 669.25,393.70 671.95,393.70" fill="#111"/>
<polygon points="670.60,429.30 669.25,424.70 671.95,424.70" fill="#111"/>
<path transform="translate(668.0,374.5) rotate(-90)" d="M0.5,-6.4 L2.75,-8.35 L2.75,0" stroke="#222" stroke-width="1.05" fill="none"/>
<text transform="translate(668.0,371.2) rotate(-90)" font-size="12" textLength="6.94" lengthAdjust="spacingAndGlyphs" fill="#222">0</text>
<text transform="translate(668.0,364.1) rotate(-90)" font-size="12" textLength="6.94" lengthAdjust="spacingAndGlyphs" fill="#222">0</text>
<text transform="translate(668.0,357.7) rotate(-90)" font-size="12" textLength="6.6" lengthAdjust="spacingAndGlyphs" fill="#222">+</text>
<text transform="translate(668.0,349.8) rotate(-90)" font-size="12" textLength="6.94" lengthAdjust="spacingAndGlyphs" fill="#222">5</text>
<line x1="90" y1="473.9" x2="642.9" y2="473.9" stroke="#333" stroke-width="0.9" />
<line x1="90.0" y1="465.9" x2="97.9" y2="473.9" stroke="#3a3a3a" stroke-width="0.75" />
<line x1="97.987" y1="465.9" x2="105.887" y2="473.9" stroke="#3a3a3a" stroke-width="0.75" />
<line x1="105.974" y1="465.9" x2="113.87400000000001" y2="473.9" stroke="#3a3a3a" stroke-width="0.75" />
<line x1="113.961" y1="465.9" x2="121.861" y2="473.9" stroke="#3a3a3a" stroke-width="0.75" />
<line x1="121.94800000000001" y1="465.9" x2="129.848" y2="473.9" stroke="#3a3a3a" stroke-width="0.75" />
<line x1="129.935" y1="465.9" x2="137.835" y2="473.9" stroke="#3a3a3a" stroke-width="0.75" />
<line x1="137.922" y1="465.9" x2="145.822" y2="473.9" stroke="#3a3a3a" stroke-width="0.75" />
<line x1="145.909" y1="465.9" x2="153.809" y2="473.9" stroke="#3a3a3a" stroke-width="0.75" />
<line x1="153.89600000000002" y1="465.9" x2="161.79600000000002" y2="473.9" stroke="#3a3a3a" stroke-width="0.75" />
<line x1="161.88299999999998" y1="465.9" x2="169.783" y2="473.9" stroke="#3a3a3a" stroke-width="0.75" />
<line x1="169.87" y1="465.9" x2="177.77" y2="473.9" stroke="#3a3a3a" stroke-width="0.75" />
<line x1="177.857" y1="465.9" x2="185.757" y2="473.9" stroke="#3a3a3a" stroke-width="0.75" />
<line x1="185.844" y1="465.9" x2="193.744" y2="473.9" stroke="#3a3a3a" stroke-width="0.75" />
<line x1="193.83100000000002" y1="465.9" x2="201.73100000000002" y2="473.9" stroke="#3a3a3a" stroke-width="0.75" />
<line x1="201.81799999999998" y1="465.9" x2="209.718" y2="473.9" stroke="#3a3a3a" stroke-width="0.75" />
<line x1="209.805" y1="465.9" x2="217.705" y2="473.9" stroke="#3a3a3a" stroke-width="0.75" />
<line x1="217.792" y1="465.9" x2="225.692" y2="473.9" stroke="#3a3a3a" stroke-width="0.75" />
<line x1="225.779" y1="465.9" x2="233.679" y2="473.9" stroke="#3a3a3a" stroke-width="0.75" />
<line x1="233.766" y1="465.9" x2="241.666" y2="473.9" stroke="#3a3a3a" stroke-width="0.75" />
<line x1="241.75300000000001" y1="465.9" x2="249.65300000000002" y2="473.9" stroke="#3a3a3a" stroke-width="0.75" />
<line x1="249.74" y1="465.9" x2="257.64" y2="473.9" stroke="#3a3a3a" stroke-width="0.75" />
<line x1="257.727" y1="465.9" x2="265.62699999999995" y2="473.9" stroke="#3a3a3a" stroke-width="0.75" />
<line x1="265.714" y1="465.9" x2="273.614" y2="473.9" stroke="#3a3a3a" stroke-width="0.75" />
<line x1="273.701" y1="465.9" x2="281.601" y2="473.9" stroke="#3a3a3a" stroke-width="0.75" />
<line x1="281.688" y1="465.9" x2="289.58799999999997" y2="473.9" stroke="#3a3a3a" stroke-width="0.75" />
<line x1="289.675" y1="465.9" x2="297.575" y2="473.9" stroke="#3a3a3a" stroke-width="0.75" />
<line x1="297.66200000000003" y1="465.9" x2="305.562" y2="473.9" stroke="#3a3a3a" stroke-width="0.75" />
<line x1="305.649" y1="465.9" x2="313.549" y2="473.9" stroke="#3a3a3a" stroke-width="0.75" />
<line x1="313.63599999999997" y1="465.9" x2="321.53599999999994" y2="473.9" stroke="#3a3a3a" stroke-width="0.75" />
<line x1="321.623" y1="465.9" x2="329.52299999999997" y2="473.9" stroke="#3a3a3a" stroke-width="0.75" />
<line x1="329.61" y1="465.9" x2="337.51" y2="473.9" stroke="#3a3a3a" stroke-width="0.75" />
<line x1="337.597" y1="465.9" x2="345.49699999999996" y2="473.9" stroke="#3a3a3a" stroke-width="0.75" />
<line x1="345.584" y1="465.9" x2="353.484" y2="473.9" stroke="#3a3a3a" stroke-width="0.75" />
<line x1="353.571" y1="465.9" x2="361.471" y2="473.9" stroke="#3a3a3a" stroke-width="0.75" />
<line x1="361.558" y1="465.9" x2="369.45799999999997" y2="473.9" stroke="#3a3a3a" stroke-width="0.75" />
<line x1="369.545" y1="465.9" x2="377.445" y2="473.9" stroke="#3a3a3a" stroke-width="0.75" />
<line x1="377.532" y1="465.9" x2="385.43199999999996" y2="473.9" stroke="#3a3a3a" stroke-width="0.75" />
<line x1="385.519" y1="465.9" x2="393.419" y2="473.9" stroke="#3a3a3a" stroke-width="0.75" />
<line x1="393.50600000000003" y1="465.9" x2="401.406" y2="473.9" stroke="#3a3a3a" stroke-width="0.75" />
<line x1="401.493" y1="465.9" x2="409.393" y2="473.9" stroke="#3a3a3a" stroke-width="0.75" />
<line x1="409.48" y1="465.9" x2="417.38" y2="473.9" stroke="#3a3a3a" stroke-width="0.75" />
<line x1="417.467" y1="465.9" x2="425.36699999999996" y2="473.9" stroke="#3a3a3a" stroke-width="0.75" />
<line x1="425.454" y1="465.9" x2="433.354" y2="473.9" stroke="#3a3a3a" stroke-width="0.75" />
<line x1="433.44100000000003" y1="465.9" x2="441.341" y2="473.9" stroke="#3a3a3a" stroke-width="0.75" />
<line x1="441.428" y1="465.9" x2="449.328" y2="473.9" stroke="#3a3a3a" stroke-width="0.75" />
<line x1="449.415" y1="465.9" x2="457.315" y2="473.9" stroke="#3a3a3a" stroke-width="0.75" />
<line x1="457.402" y1="465.9" x2="465.30199999999996" y2="473.9" stroke="#3a3a3a" stroke-width="0.75" />
<line x1="465.389" y1="465.9" x2="473.289" y2="473.9" stroke="#3a3a3a" stroke-width="0.75" />
<line x1="473.376" y1="465.9" x2="481.27599999999995" y2="473.9" stroke="#3a3a3a" stroke-width="0.75" />
<line x1="481.363" y1="465.9" x2="489.263" y2="473.9" stroke="#3a3a3a" stroke-width="0.75" />
<line x1="489.35" y1="465.9" x2="497.25" y2="473.9" stroke="#3a3a3a" stroke-width="0.75" />
<line x1="497.337" y1="465.9" x2="505.23699999999997" y2="473.9" stroke="#3a3a3a" stroke-width="0.75" />
<line x1="505.324" y1="465.9" x2="513.224" y2="473.9" stroke="#3a3a3a" stroke-width="0.75" />
<line x1="513.3109999999999" y1="465.9" x2="521.2109999999999" y2="473.9" stroke="#3a3a3a" stroke-width="0.75" />
<line x1="521.298" y1="465.9" x2="529.198" y2="473.9" stroke="#3a3a3a" stroke-width="0.75" />
<line x1="529.2850000000001" y1="465.9" x2="537.1850000000001" y2="473.9" stroke="#3a3a3a" stroke-width="0.75" />
<line x1="537.2719999999999" y1="465.9" x2="545.1719999999999" y2="473.9" stroke="#3a3a3a" stroke-width="0.75" />
<line x1="545.259" y1="465.9" x2="553.159" y2="473.9" stroke="#3a3a3a" stroke-width="0.75" />
<line x1="553.246" y1="465.9" x2="561.146" y2="473.9" stroke="#3a3a3a" stroke-width="0.75" />
<line x1="561.233" y1="465.9" x2="569.1329999999999" y2="473.9" stroke="#3a3a3a" stroke-width="0.75" />
<line x1="569.22" y1="465.9" x2="577.12" y2="473.9" stroke="#3a3a3a" stroke-width="0.75" />
<line x1="577.207" y1="465.9" x2="585.107" y2="473.9" stroke="#3a3a3a" stroke-width="0.75" />
<line x1="585.194" y1="465.9" x2="593.0939999999999" y2="473.9" stroke="#3a3a3a" stroke-width="0.75" />
<line x1="593.181" y1="465.9" x2="601.081" y2="473.9" stroke="#3a3a3a" stroke-width="0.75" />
<line x1="601.168" y1="465.9" x2="609.068" y2="473.9" stroke="#3a3a3a" stroke-width="0.75" />
<line x1="609.155" y1="465.9" x2="617.055" y2="473.9" stroke="#3a3a3a" stroke-width="0.75" />
<line x1="617.142" y1="465.9" x2="625.042" y2="473.9" stroke="#3a3a3a" stroke-width="0.75" />
<line x1="625.129" y1="465.9" x2="633.029" y2="473.9" stroke="#3a3a3a" stroke-width="0.75" />
<line x1="633.116" y1="465.9" x2="641.016" y2="473.9" stroke="#3a3a3a" stroke-width="0.75" />
<path d="M109.8,473.9 L109.8,651.5 Q109.8,659 117.3,659 L334.9,659 Q342.2,659 342.2,651.5 L342.2,473.9" fill="none" stroke="#3a3a3a" stroke-width="0.8"/>
<line x1="115.6" y1="505.4" x2="115.6" y2="650.8" stroke="#3a3a3a" stroke-width="0.72" />
<line x1="117.9" y1="511.4" x2="117.9" y2="650.8" stroke="#3a3a3a" stroke-width="0.72" />
<line x1="335.9" y1="505.4" x2="335.9" y2="650.8" stroke="#3a3a3a" stroke-width="0.72" />
<line x1="333.9" y1="511.4" x2="333.9" y2="650.8" stroke="#3a3a3a" stroke-width="0.72" />
<line x1="124.3" y1="511.4" x2="124.3" y2="651.4" stroke="#3a3a3a" stroke-width="0.72" />
<line x1="327.7" y1="511.4" x2="327.7" y2="651.4" stroke="#3a3a3a" stroke-width="0.72" />
<rect x="116.4" y="474.4" width="5.0" height="6.7000000000000455" rx="0" fill="none" stroke="#222" stroke-width="1.0"/>
<rect x="116.4" y="474.4" width="5.0" height="31.0" rx="0" fill="none" stroke="#3a3a3a" stroke-width="0.6"/>
<rect x="330.4" y="474.4" width="5.0" height="6.7000000000000455" rx="0" fill="none" stroke="#222" stroke-width="1.0"/>
<rect x="330.4" y="474.4" width="5.0" height="31.0" rx="0" fill="none" stroke="#3a3a3a" stroke-width="0.6"/>
<line x1="121.4" y1="480.4" x2="330.4" y2="480.4" stroke="#3a3a3a" stroke-width="0.72" />
<line x1="116.4" y1="495.4" x2="335.4" y2="495.4" stroke="#3a3a3a" stroke-width="0.72" />
<line x1="116.4" y1="502.1" x2="335.4" y2="502.1" stroke="#3a3a3a" stroke-width="0.72" />
<line x1="118.3" y1="511.4" x2="334" y2="511.4" stroke="#3a3a3a" stroke-width="0.72" />
<line x1="124.3" y1="518.1" x2="327.7" y2="518.1" stroke="#3a3a3a" stroke-width="0.72" />
<line x1="115.4" y1="535.3" x2="335.6" y2="535.3" stroke="#3a3a3a" stroke-width="0.72" />
<line x1="115.4" y1="610.6" x2="335.6" y2="610.6" stroke="#3a3a3a" stroke-width="0.72" />
<line x1="116.4" y1="644.3" x2="335.3" y2="644.3" stroke="#3a3a3a" stroke-width="0.72" />
<line x1="114.5" y1="651.4" x2="341.8" y2="651.4" stroke="#3a3a3a" stroke-width="0.72" />
<circle cx="116.4" cy="644.3" r="6.3" fill="none" stroke="#3a3a3a" stroke-width="0.8"/>
<circle cx="335.4" cy="644.3" r="6.3" fill="none" stroke="#3a3a3a" stroke-width="0.8"/>
<path d="M202.7,518.1 L202.7,585.2 A23.4,23.4 0 0 0 249.5,585.2 L249.5,518.1" fill="none" stroke="#3a3a3a" stroke-width="0.9"/>
<path d="M206.5,511.4 L206.5,585.4 A19.6,19.6 0 0 0 245.7,585.4 L245.7,511.4" fill="none" stroke="#3a3a3a" stroke-width="0.9"/>
<line x1="183.2" y1="473.9" x2="183.2" y2="604.2" stroke="#3a3a3a" stroke-width="0.72" />
<polygon points="183.20,473.90 181.85,478.50 184.55,478.50" fill="#111"/>
<polygon points="183.20,604.20 181.85,599.60 184.55,599.60" fill="#111"/>
<line x1="180.7" y1="604.3" x2="221" y2="604.3" stroke="#3a3a3a" stroke-width="0.72" />
<text transform="translate(180,550.35) rotate(-90)" font-size="12" textLength="6.94" lengthAdjust="spacingAndGlyphs" fill="#222">3</text>
<text transform="translate(180,543.45) rotate(-90)" font-size="12" textLength="6.94" lengthAdjust="spacingAndGlyphs" fill="#222">2</text>
<text transform="translate(180,536.55) rotate(-90)" font-size="12" textLength="6.94" lengthAdjust="spacingAndGlyphs" fill="#222">7</text>
<line x1="206.4" y1="585" x2="206.4" y2="638.6" stroke="#3a3a3a" stroke-width="0.72" />
<line x1="245.5" y1="585" x2="245.5" y2="638.6" stroke="#3a3a3a" stroke-width="0.72" />
<line x1="206.4" y1="636.4" x2="245.5" y2="636.4" stroke="#3a3a3a" stroke-width="0.72" />
<polygon points="206.40,636.40 211.00,635.05 211.00,637.75" fill="#111"/>
<polygon points="245.50,636.40 240.90,635.05 240.90,637.75" fill="#111"/>
<text x="218.90" y="633.6" font-size="12" textLength="6.94" lengthAdjust="spacingAndGlyphs" fill="#222">9</text>
<text x="225.80" y="633.6" font-size="12" textLength="6.94" lengthAdjust="spacingAndGlyphs" fill="#222">9</text>
<path d="M192.9,659 L192.9,662.9 M195.4,659 L195.4,662.9 M256.5,659 L256.5,662.9 M259.3,659 L259.3,662.9" fill="none" stroke="#3a3a3a" stroke-width="0.7"/>
<rect x="191.7" y="662.9" width="69.30000000000001" height="3.1000000000000227" rx="1.2" fill="none" stroke="#3a3a3a" stroke-width="0.8"/>
<text x="348.7" y="510.6" font-size="14" text-anchor="start" textLength="285.5" lengthAdjust="spacingAndGlyphs" fill="#222">A - место для вывода трубы канализации</text>
<text x="348.7" y="530.8" font-size="14" text-anchor="start" textLength="295" lengthAdjust="spacingAndGlyphs" fill="#222">B - место для вывода труб водоснабжения</text>
</svg>
</body></html>
